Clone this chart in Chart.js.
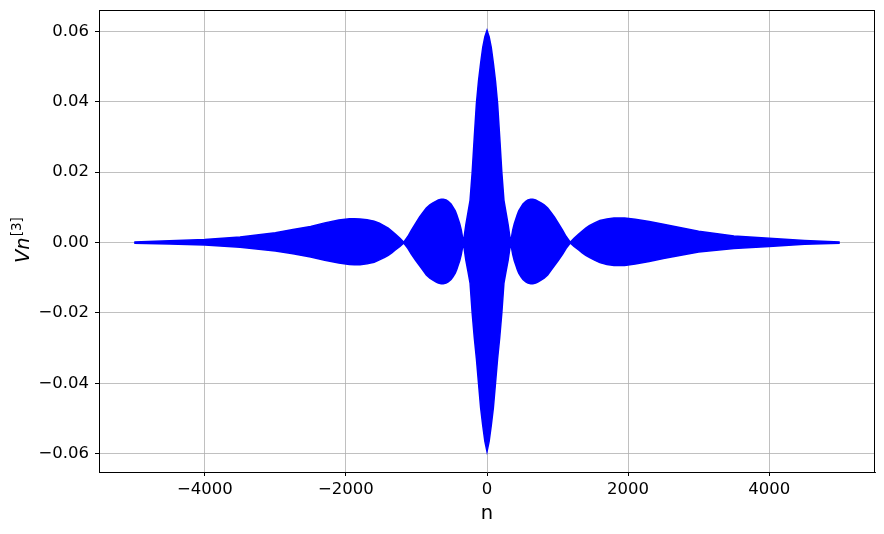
<!DOCTYPE html>
<html>
<head>
<meta charset="utf-8">
<script src="https://cdn.jsdelivr.net/npm/chart.js@4/dist/chart.umd.min.js"></script>
<style>
  html, body { margin: 0; padding: 0; background: #fff; }
  canvas { display: block; }
</style>
</head>
<body>
<canvas id="grafico" width="884" height="534"></canvas>
<script>
// envelope of the signal (n, upper, lower)
const nValues = [
  -5000, -4500, -4000, -3500, -3000, -2750, -2500, -2300, -2100, -1950, -1880, -1800, -1700, -1600, -1525, -1450, -1400, -1350, -1300, -1234, -1180,
  -1120, -1073, -1010, -955, -900, -860, -810, -766, -720, -690, -650, -620, -580, -550, -510, -482, -450, -430, -410, -387, -365, -335,
  -300, -270, -240, -210, -180, -150, -120, -90, -60, -30, 0, 30, 60, 90, 120, 150, 180, 210, 240, 270, 300,
  335, 365, 387, 410, 430, 450, 482, 510, 550, 580, 620, 650, 690, 720, 766, 810, 860, 900, 955, 1010, 1073, 1120,
  1180, 1234, 1300, 1350, 1400, 1450, 1525, 1600, 1700, 1800, 1880, 1950, 2100, 2300, 2500, 2750, 3000, 3500, 4000, 4500, 5000
];

const upperEnv = [
  0.0002, 0.0005, 0.0009, 0.0016, 0.0028, 0.0037, 0.0046, 0.0056, 0.0064, 0.0068, 0.0068, 0.0067, 0.0065, 0.0061, 0.0055, 0.0047, 0.0041, 0.0033, 0.0024, 0.0012, 0.0001,
  0.0018, 0.0035, 0.0055, 0.0073, 0.0088, 0.0098, 0.0107, 0.0113, 0.0118, 0.0121, 0.0123, 0.0123, 0.0121, 0.0117, 0.0110, 0.0101, 0.0090, 0.0080, 0.0068, 0.0054, 0.0036, 0.0001,
  0.0050, 0.0085, 0.0120, 0.0200, 0.0300, 0.0395, 0.0460, 0.0510, 0.0555, 0.0585, 0.0603, 0.0585, 0.0555, 0.0510, 0.0460, 0.0395, 0.0300, 0.0200, 0.0120, 0.0085, 0.0050,
  0.0001, 0.0036, 0.0054, 0.0068, 0.0080, 0.0090, 0.0101, 0.0110, 0.0117, 0.0121, 0.0123, 0.0123, 0.0121, 0.0118, 0.0113, 0.0107, 0.0098, 0.0088, 0.0073, 0.0055, 0.0035, 0.0018,
  0.0001, 0.0012, 0.0024, 0.0033, 0.0041, 0.0048, 0.0056, 0.0063, 0.0067, 0.0070, 0.0070, 0.0070, 0.0066, 0.0060, 0.0052, 0.0042, 0.0032, 0.0019, 0.0012, 0.0006, 0.0002
];

const lowerEnv = [
  -0.0002, -0.0004, -0.0007, -0.0013, -0.0024, -0.0032, -0.0041, -0.0050, -0.0058, -0.0062, -0.0063, -0.0063, -0.0060, -0.0056, -0.0049, -0.0042, -0.0036, -0.0029, -0.0021, -0.0011, -0.0001,
  -0.0017, -0.0033, -0.0051, -0.0066, -0.0081, -0.0092, -0.0101, -0.0107, -0.0112, -0.0115, -0.0117, -0.0117, -0.0115, -0.0112, -0.0105, -0.0097, -0.0087, -0.0077, -0.0065, -0.0052, -0.0034, -0.0001,
  -0.0050, -0.0082, -0.0115, -0.0200, -0.0270, -0.0330, -0.0400, -0.0470, -0.0520, -0.0565, -0.0594, -0.0565, -0.0520, -0.0470, -0.0400, -0.0330, -0.0270, -0.0200, -0.0115, -0.0082, -0.0050,
  -0.0001, -0.0034, -0.0052, -0.0065, -0.0077, -0.0087, -0.0097, -0.0105, -0.0112, -0.0115, -0.0117, -0.0117, -0.0115, -0.0112, -0.0107, -0.0101, -0.0092, -0.0081, -0.0066, -0.0051, -0.0033, -0.0017,
  -0.0001, -0.0011, -0.0021, -0.0029, -0.0036, -0.0042, -0.0050, -0.0057, -0.0062, -0.0065, -0.0065, -0.0065, -0.0061, -0.0054, -0.0045, -0.0036, -0.0027, -0.0017, -0.0011, -0.0005, -0.0002
];

const xTicks = [-4000, -2000, 0, 2000, 4000];
const yTicks = [-0.06, -0.04, -0.02, 0.00, 0.02, 0.04, 0.06];

const azul = '#0000ff';
const fuente = '"DejaVu Sans", sans-serif';

function menos(texto) {
  return texto.replace('-', '\u2212');
}

// marco superior/derecho y etiqueta del eje y (Vn^[3])
const extras = {
  id: 'extras',
  afterDraw(chart) {
    const ctx = chart.ctx;
    const a = chart.chartArea;
    ctx.save();
    ctx.fillStyle = '#000';
    ctx.fillRect(Math.round(a.left), Math.round(a.top), Math.round(a.right - a.left), 1);
    ctx.fillRect(Math.round(a.right) - 1, Math.round(a.top), 1, Math.round(a.bottom - a.top));

    ctx.translate(28.5, 263);
    ctx.rotate(-Math.PI / 2);
    ctx.textBaseline = 'alphabetic';
    ctx.textAlign = 'left';
    ctx.font = 'italic 19.5px ' + fuente;
    ctx.fillText('Vn', 0, 0);
    const w = ctx.measureText('Vn').width;
    ctx.font = '13.5px ' + fuente;
    ctx.fillText('[3]', w + 1, -8);
    ctx.restore();
  }
};

const ctx = document.getElementById('grafico').getContext('2d');

const myChart = new Chart(ctx, {
  type: 'line',
  data: {
    datasets: [
      {
        label: 'superior',
        data: nValues.map((n, i) => ({ x: n, y: upperEnv[i] })),
        borderColor: azul,
        backgroundColor: azul,
        borderWidth: 1.5,
        pointRadius: 0,
        tension: 0,
        fill: '+1'
      },
      {
        label: 'inferior',
        data: nValues.map((n, i) => ({ x: n, y: lowerEnv[i] })),
        borderColor: azul,
        backgroundColor: azul,
        borderWidth: 1.5,
        pointRadius: 0,
        tension: 0,
        fill: false
      }
    ]
  },
  options: {
    responsive: false,
    animation: false,
    layout: { padding: { top: 10, right: 9, left: 0, bottom: 0 } },
    plugins: {
      legend: { display: false },
      tooltip: { enabled: false }
    },
    scales: {
      x: {
        type: 'linear',
        min: -5500,
        max: 5500,
        afterBuildTicks: (scale) => { scale.ticks = xTicks.map(v => ({ value: v })); },
        afterFit: (scale) => {
          scale.height = 62;
          scale.paddingLeft = 0;
          scale.paddingRight = 0;
        },
        ticks: {
          color: '#000',
          font: { family: fuente, size: 16.5 },
          padding: 4,
          maxRotation: 0,
          callback: (v) => menos(String(v))
        },
        grid: {
          color: '#b0b0b0',
          lineWidth: 0.8,
          tickColor: '#000',
          tickLength: 4,
          tickWidth: 1
        },
        border: { display: true, color: '#000', width: 1 },
        title: {
          display: true,
          text: 'n',
          color: '#000',
          font: { family: fuente, size: 19.5 },
          padding: { top: 4, bottom: 8 }
        }
      },
      y: {
        type: 'linear',
        min: -0.0652,
        max: 0.0661,
        afterBuildTicks: (scale) => { scale.ticks = yTicks.map(v => ({ value: v })); },
        afterFit: (scale) => {
          scale.width = 99;
          scale.paddingTop = 0;
          scale.paddingBottom = 0;
        },
        ticks: {
          color: '#000',
          font: { family: fuente, size: 16.5 },
          padding: 6,
          callback: (v) => menos(v.toFixed(2))
        },
        grid: {
          color: '#b0b0b0',
          lineWidth: 0.8,
          tickColor: '#000',
          tickLength: 4,
          tickWidth: 1
        },
        border: { display: true, color: '#000', width: 1 }
      }
    }
  },
  plugins: [extras]
});
</script>
</body>
</html>
